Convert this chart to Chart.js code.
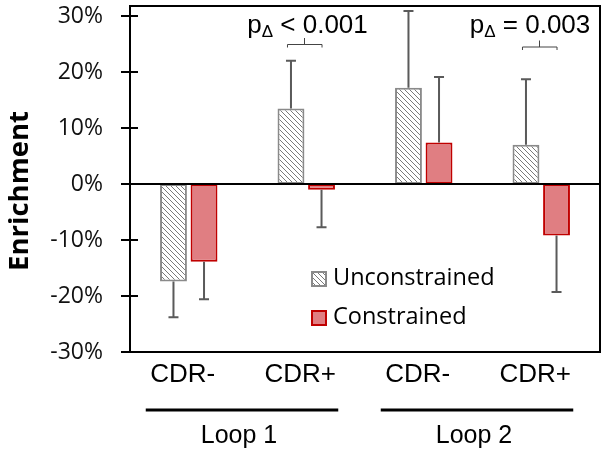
<!DOCTYPE html>
<html><head><meta charset="utf-8">
<script src="https://cdn.jsdelivr.net/npm/chart.js@4.4.1/dist/chart.umd.min.js"></script>
<style>html,body{margin:0;padding:0;background:#fff}#wrap{width:607px;height:455px;position:relative}</style>
</head><body><div id="wrap"><canvas id="c"></canvas></div>
<script>
const categories = ['CDR-', 'CDR+', 'CDR-', 'CDR+'];
const groupNames = ['Loop 1', 'Loop 2'];
const groupMembers = [[0, 1], [2, 3]];
const unconstrained = [-17.4, 13.5, 17.2, 7.0];
const constrained = [-13.9, -1.0, 7.4, -9.2];
const uncErr = [6.4, 8.5, 13.7, 11.7];
const conErr = [6.7, 6.7, 11.7, 10.1];
const yTicks = [-30, -20, -10, 0, 10, 20, 30];
const pAnnotations = [{cat: 1, op: '<', val: '0.001'}, {cat: 3, op: '=', val: '0.003'}];

function makeHatch() {
  const c = document.createElement('canvas');
  c.width = 5; c.height = 5;
  const g = c.getContext('2d');
  g.fillStyle = '#fff'; g.fillRect(0, 0, 5, 5);
  g.strokeStyle = '#7a7a7a'; g.lineWidth = 1;
  g.beginPath();
  g.moveTo(-1, -1); g.lineTo(6, 6);
  g.moveTo(-1, 4); g.lineTo(1, 6);
  g.moveTo(4, -1); g.lineTo(6, 1);
  g.stroke();
  return g.createPattern(c, 'repeat');
}
const ctx = document.getElementById('c').getContext('2d');
const hatch = makeHatch();

const decor = {
  id: 'decor',
  afterDatasetsDraw(chart) {
    const c = chart.ctx, a = chart.chartArea, xs = chart.scales.x, ys = chart.scales.y;
    c.save();
    chart.data.datasets.forEach((ds, i) => {
      const meta = chart.getDatasetMeta(i);
      meta.data.forEach((bar, j) => {
        const v = ds.data[j], e = ds.errors[j];
        const end = v + (v >= 0 ? e : -e);
        const y1 = ys.getPixelForValue(v), y2 = ys.getPixelForValue(end);
        c.strokeStyle = '#5a5a5a'; c.lineWidth = 2;
        c.beginPath();
        c.moveTo(bar.x, y1); c.lineTo(bar.x, y2);
        c.moveTo(bar.x - 5, y2); c.lineTo(bar.x + 5, y2);
        c.stroke();
      });
    });
    c.strokeStyle = '#000'; c.lineWidth = 2;
    c.strokeRect(a.left, a.top, a.right - a.left, a.bottom - a.top);
    const y0 = ys.getPixelForValue(0);
    c.beginPath(); c.moveTo(a.left, y0); c.lineTo(a.right, y0); c.stroke();
    yTicks.forEach(v => {
      const py = Math.round(ys.getPixelForValue(v));
      c.beginPath(); c.moveTo(a.left - 9, py); c.lineTo(a.left + 8, py); c.stroke();
    });
    const m0 = chart.getDatasetMeta(0), m1 = chart.getDatasetMeta(1);
    pAnnotations.forEach((p, k) => {
      const cx = xs.getPixelForValue(p.cat);
      const bl = m0.data[p.cat].x - 4, br = m1.data[p.cat].x;
      const by = k === 0 ? 44 : 46.5;
      c.strokeStyle = '#444'; c.lineWidth = 1;
      c.beginPath();
      c.moveTo(bl + 0.5, by + 3.5); c.lineTo(bl + 0.5, by + 0.5); c.lineTo(br + 0.5, by + 0.5); c.lineTo(br + 0.5, by + 3.5);
      const mid = Math.round((bl + br) / 2) + 0.5;
      c.moveTo(mid, by + 0.5); c.lineTo(mid, by - 6);
      c.stroke();
      let tx = cx - (k === 0 ? 59 : 71.5);
      c.fillStyle = '#000'; c.textAlign = 'left'; c.textBaseline = 'alphabetic';
      c.font = '26px "Liberation Sans", Arial, sans-serif';
      c.fillText('p', tx, 33); tx += c.measureText('p').width;
      c.font = '17px "Liberation Sans", Arial, sans-serif';
      c.fillText('\u0394', tx, 37); tx += c.measureText('\u0394').width;
      c.font = '26px "Liberation Sans", Arial, sans-serif';
      c.fillText(' ' + p.op + ' ' + p.val, tx, 33);
    });
    const lx = a.left + 181;
    const items = [{y: 271, ds: chart.data.datasets[0]}, {y: 310, ds: chart.data.datasets[1]}];
    items.forEach(it => {
      c.fillStyle = it.ds.backgroundColor;
      c.fillRect(lx, it.y, 16, 16);
      c.strokeStyle = it.ds.borderColor; c.lineWidth = 2;
      c.strokeRect(lx + 1, it.y + 1, 14, 14);
      c.fillStyle = '#000'; c.font = '23.5px "Open Sans", sans-serif';
      c.textBaseline = 'middle'; c.textAlign = 'left';
      c.fillText(it.ds.label, lx + 22, it.y + 7);
    });
    groupMembers.forEach((g, k) => {
      const x1 = xs.getPixelForValue(g[0]) - 43, x2 = xs.getPixelForValue(g[1]) + 32;
      c.strokeStyle = '#000'; c.lineWidth = 3;
      c.beginPath(); c.moveTo(x1, 410); c.lineTo(x2, 410); c.stroke();
      c.fillStyle = '#000'; c.font = '25px "Liberation Sans", Arial, sans-serif';
      c.textAlign = 'center'; c.textBaseline = 'alphabetic';
      c.fillText(groupNames[k], (x1 + x2) / 2 - 3, 443);
    });
    c.translate(20, 191); c.rotate(-Math.PI / 2);
    c.font = 'bold 27.5px "Open Sans", sans-serif';
    c.textAlign = 'center'; c.textBaseline = 'middle'; c.fillStyle = '#000';
    c.fillText('Enrichment', 0, 0);
    c.restore();
  }
};

new Chart(ctx, {
  type: 'bar',
  data: {
    labels: categories,
    datasets: [
      {label: 'Unconstrained', data: unconstrained, errors: uncErr, backgroundColor: hatch, borderColor: '#8a8a8a', borderWidth: 2, borderSkipped: false},
      {label: 'Constrained', data: constrained, errors: conErr, backgroundColor: '#e07e82', borderColor: '#c00000', borderWidth: 2, borderSkipped: false}
    ]
  },
  options: {
    responsive: true, maintainAspectRatio: false, animation: false,
    layout: {padding: {top: 6, right: 7, left: 0, bottom: 0}},
    plugins: {legend: {display: false}, tooltip: {enabled: false}},
    datasets: {bar: {categoryPercentage: 0.52, barPercentage: 0.88}},
    scales: {
      x: {
        grid: {display: false, drawTicks: false}, border: {display: false},
        ticks: {font: {family: 'Liberation Sans', size: 26}, color: '#000', padding: 7, labelOffset: -6, maxRotation: 0, autoSkip: false},
        afterFit(s) { s.height = 103; s.paddingLeft = 0; s.paddingRight = 0; s.paddingTop = 0; s.paddingBottom = 0; }
      },
      y: {
        min: -30, max: 31.8,
        grid: {display: false, drawTicks: false}, border: {display: false},
        afterBuildTicks(s) { s.ticks = yTicks.map(v => ({value: v})); },
        ticks: {callback: v => v + '%', font: {family: 'Open Sans', size: 23}, color: '#111', padding: 27},
        afterFit(s) { s.width = 130; s.paddingTop = 0; s.paddingBottom = 0; s.paddingLeft = 0; s.paddingRight = 0; }
      }
    }
  },
  plugins: [decor]
});
</script>
</body></html>
